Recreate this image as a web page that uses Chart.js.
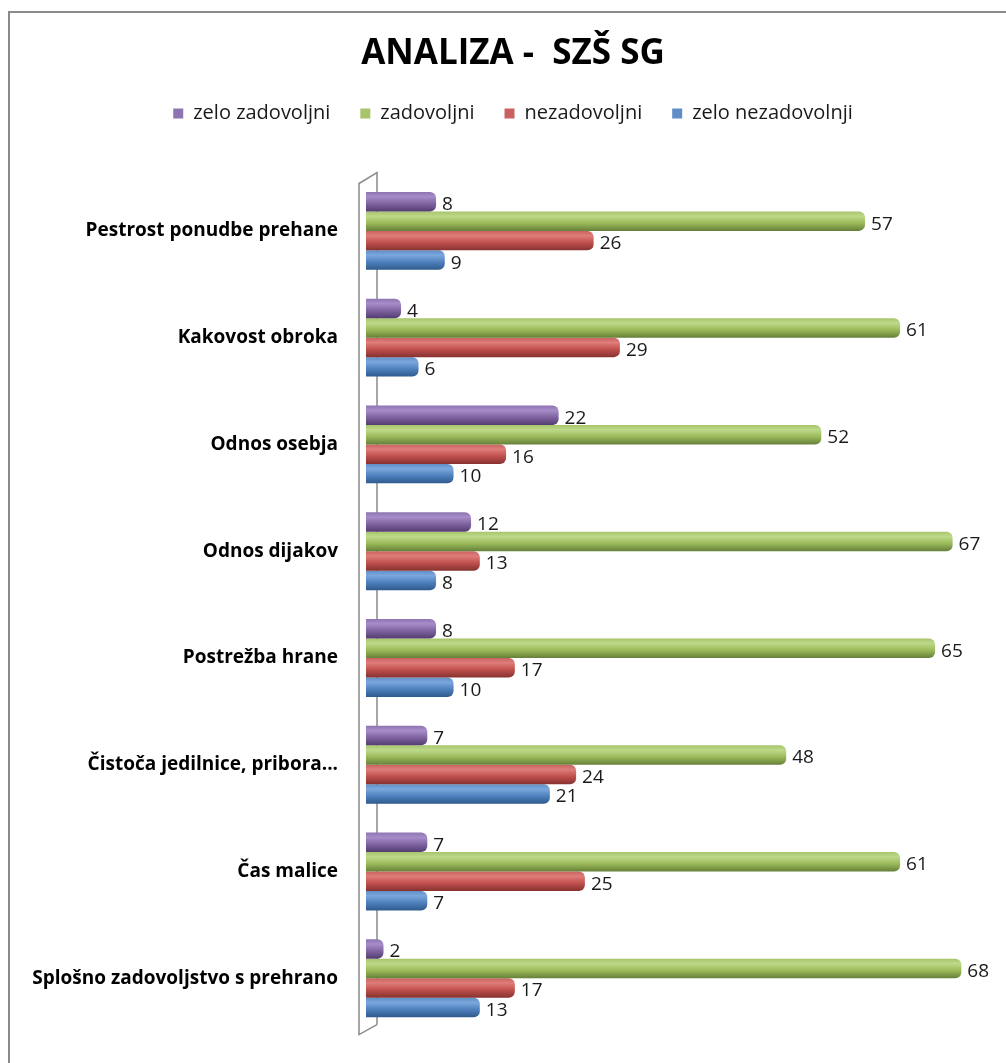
<!DOCTYPE html>
<html>
<head>
<meta charset="utf-8">
<script src="https://cdn.jsdelivr.net/npm/chart.js@4.4.1/dist/chart.umd.min.js"></script>
<style>
  body { margin: 0; background: #fff; }
  #wrap { width: 1006px; height: 1063px; position: relative; }
</style>
</head>
<body>
<div id="wrap"><canvas id="analizaChart"></canvas></div>
<script>
// data
const categories = [
    'Pestrost ponudbe prehane',
    'Kakovost obroka',
    'Odnos osebja',
    'Odnos dijakov',
    'Postrežba hrane',
    'Čistoča jedilnice, pribora...',
    'Čas malice',
    'Splošno zadovoljstvo s prehrano'
];
const seriesNames = ['zelo zadovoljni', 'zadovoljni', 'nezadovoljni', 'zelo nezadovolnji'];
const zeloZadovoljni = [8, 4, 22, 12, 8, 7, 7, 2];
const zadovoljni = [57, 61, 52, 67, 65, 48, 61, 68];
const nezadovoljni = [26, 29, 16, 13, 17, 24, 25, 17];
const zeloNezadovoljni = [9, 6, 10, 8, 10, 21, 7, 13];

// cylinder shading per series
const edgeCols = ['#8e74b0', '#a7c46b', '#c9625f', '#5f8ec6'];
const lightCols = ['#a68cc9', '#bdd98a', '#df7d7a', '#7ba7dd'];
const midCols = ['#8064a2', '#9bbb59', '#c0504d', '#4f81bd'];
const darkCols = ['#533d70', '#66803a', '#863230', '#2f5a8c'];

const catPct = 0.73;

function cylinder(i) {
    return (ctx) => {
        if (ctx.type !== 'data') return midCols[i];
        const chart = ctx.chart;
        const ys = chart.scales.y;
        if (!ys || !ys.bottom) return midCols[i];
        const band = (ys.bottom - ys.top) / categories.length;
        const slot = band * catPct / 4;
        const c = ys.getPixelForValue(ctx.dataIndex) + (ctx.datasetIndex - 1.5) * slot;
        const g = chart.ctx.createLinearGradient(0, c - slot / 2, 0, c + slot / 2);
        g.addColorStop(0, edgeCols[i]);
        g.addColorStop(0.25, lightCols[i]);
        g.addColorStop(0.6, midCols[i]);
        g.addColorStop(1, darkCols[i]);
        return g;
    };
}

const allValues = [zeloZadovoljni, zadovoljni, nezadovoljni, zeloNezadovoljni];

// outer frame (left + top edge only, the rest is cut off)
const framePlugin = {
    id: 'frame',
    beforeDraw(chart) {
        const c = chart.ctx;
        c.save();
        c.fillStyle = '#fff';
        c.fillRect(0, 0, chart.width, chart.height);
        c.strokeStyle = '#8a8a8a';
        c.lineWidth = 2;
        c.beginPath();
        c.moveTo(9, chart.height);
        c.lineTo(9, 12);
        c.lineTo(chart.width, 12);
        c.stroke();
        c.restore();
    }
};

// the 3D back wall at the value axis
const wallPlugin = {
    id: 'wall',
    beforeDatasetsDraw(chart) {
        const a = chart.chartArea;
        const c = chart.ctx;
        c.save();
        c.strokeStyle = '#8a8a8a';
        c.lineWidth = 1.5;
        c.beginPath();
        c.moveTo(a.left + 11, a.bottom - 7);
        c.lineTo(a.left + 11, a.top - 5);
        c.lineTo(a.left - 7, a.top + 6);
        c.lineTo(a.left - 7, a.bottom + 3);
        c.lineTo(a.left + 11, a.bottom - 7);
        c.stroke();
        c.restore();
    }
};

// value labels at the bar ends
const valueLabels = {
    id: 'valueLabels',
    afterDatasetsDraw(chart) {
        const c = chart.ctx;
        c.save();
        c.font = '19px "Open Sans"';
        c.fillStyle = '#1a1a1a';
        c.textBaseline = 'middle';
        c.textAlign = 'left';
        chart.data.datasets.forEach((ds, di) => {
            const meta = chart.getDatasetMeta(di);
            meta.data.forEach((bar, i) => {
                c.fillText(ds.data[i], bar.x + 6, bar.y + 3);
            });
        });
        c.restore();
    }
};

// extra room under the legend
const legendSpace = {
    id: 'legendSpace',
    beforeInit(chart) {
        const fit = chart.legend.fit;
        chart.legend.fit = function () {
            fit.bind(chart.legend)();
            this.height = 104;
        };
    }
};

const ctx = document.getElementById('analizaChart').getContext('2d');
new Chart(ctx, {
    type: 'bar',
    data: {
        labels: categories,
        datasets: seriesNames.map((name, i) => ({
            label: name,
            data: allValues[i],
            backgroundColor: cylinder(i),
            borderWidth: 0,
            borderRadius: 6,
            borderSkipped: 'start',
            barPercentage: 1.0,
            categoryPercentage: catPct
        }))
    },
    options: {
        indexAxis: 'y',
        responsive: true,
        maintainAspectRatio: false,
        animation: false,
        events: [],
        layout: { padding: { left: 20, right: 0, top: 0, bottom: 19 } },
        scales: {
            x: {
                min: 0,
                max: 73.1,
                display: false
            },
            y: {
                grid: { display: false },
                border: { display: false },
                ticks: {
                    color: '#000',
                    padding: 20,
                    font: { family: 'Open Sans', size: 19, weight: 'bold' }
                },
                afterFit(scale) { scale.width = 346; }
            }
        },
        plugins: {
            title: {
                display: true,
                text: 'ANALIZA -  SZŠ SG',
                color: '#000',
                font: { family: 'Open Sans', size: 35, weight: 'bold', lineHeight: 1.1 },
                padding: { top: 35, bottom: 0 }
            },
            legend: {
                position: 'top',
                labels: {
                    color: '#1a1a1a',
                    boxWidth: 10,
                    boxHeight: 10,
                    padding: 30,
                    font: { family: 'Open Sans', size: 20 }
                }
            },
            tooltip: { enabled: false }
        }
    },
    plugins: [framePlugin, wallPlugin, valueLabels, legendSpace]
});
</script>
</body>
</html>
